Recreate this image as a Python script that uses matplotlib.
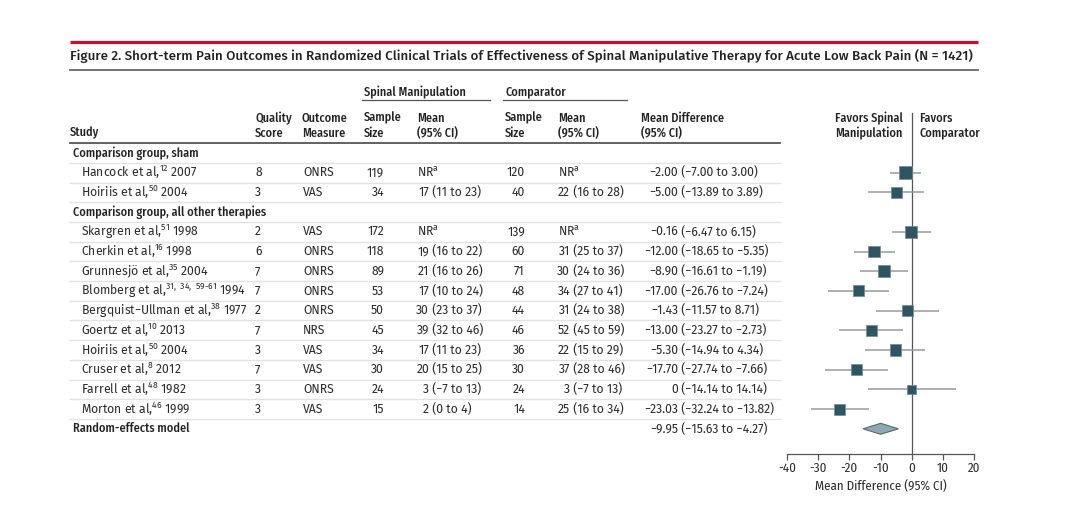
import matplotlib
matplotlib.use("Agg")
import matplotlib.pyplot as plt
from matplotlib.patches import Polygon
import numpy as np

plt.rcParams['font.family'] = ['Fira Sans', 'DejaVu Sans']
plt.rcParams['mathtext.fontset'] = 'custom'
plt.rcParams['mathtext.rm'] = 'Fira Sans'
plt.rcParams['mathtext.default'] = 'regular'
plt.rcParams['axes.unicode_minus'] = False

# ---- data ----
groups = ["Comparison group, sham", "Comparison group, all other therapies"]
group_sizes = [2, 10]

study = [
    "Hancock et al,$^{12}$ 2007",
    "Hoiriis et al,$^{50}$ 2004",
    "Skargren et al,$^{51}$ 1998",
    "Cherkin et al,$^{16}$ 1998",
    "Grunnesjö et al,$^{35}$ 2004",
    "Blomberg et al,$^{31,\\ 34,\\ 59\\text{-}61}$ 1994",
    "Bergquist−Ullman et al,$^{38}$ 1977",
    "Goertz et al,$^{10}$ 2013",
    "Hoiriis et al,$^{50}$ 2004",
    "Cruser et al,$^{8}$ 2012",
    "Farrell et al,$^{48}$ 1982",
    "Morton et al,$^{46}$ 1999",
]
quality = [8, 3, 2, 6, 7, 7, 2, 7, 3, 7, 3, 3]
measure = ["ONRS", "VAS", "VAS", "ONRS", "ONRS", "ONRS", "ONRS", "NRS", "VAS", "VAS", "ONRS", "VAS"]
sm_n = [119, 34, 172, 118, 89, 53, 50, 45, 34, 30, 24, 15]
sm_mean = ["NR$^{a}$", "17 (11 to 23)", "NR$^{a}$", "19 (16 to 22)", "21 (16 to 26)", "17 (10 to 24)",
           "30 (23 to 37)", "39 (32 to 46)", "17 (11 to 23)", "20 (15 to 25)", "3 (−7 to 13)", "2 (0 to 4)"]
cmp_n = [120, 40, 139, 60, 71, 48, 44, 46, 36, 30, 24, 14]
cmp_mean = ["NR$^{a}$", "22 (16 to 28)", "NR$^{a}$", "31 (25 to 37)", "30 (24 to 36)", "34 (27 to 41)",
            "31 (24 to 38)", "52 (45 to 59)", "22 (15 to 29)", "37 (28 to 46)", "3 (−7 to 13)", "25 (16 to 34)"]
md = [-2.00, -5.00, -0.16, -12.00, -8.90, -17.00, -1.43, -13.00, -5.30, -17.70, 0, -23.03]
md_lo = [-7.00, -13.89, -6.47, -18.65, -16.61, -26.76, -11.57, -23.27, -14.94, -27.74, -14.14, -32.24]
md_hi = [3.00, 3.89, 6.15, -5.35, -1.19, -7.24, 8.71, -2.73, 4.34, -7.66, 14.14, -13.82]
md_text = ["−2.00", "−5.00", "−0.16", "−12.00", "−8.90", "−17.00", "−1.43", "−13.00", "−5.30", "−17.70", "0", "−23.03"]
ci_text = ["(−7.00 to 3.00)", "(−13.89 to 3.89)", "(−6.47 to 6.15)", "(−18.65 to −5.35)", "(−16.61 to −1.19)",
           "(−26.76 to −7.24)", "(−11.57 to 8.71)", "(−23.27 to −2.73)", "(−14.94 to 4.34)", "(−27.74 to −7.66)",
           "(−14.14 to 14.14)", "(−32.24 to −13.82)"]
weight = [10.8, 7.8, 10.0, 9.2, 9.2, 7.8, 7.8, 7.8, 7.8, 7.8, 5.2, 7.8]

pooled = -9.95
pooled_lo = -15.63
pooled_hi = -4.27

title = ("Figure 2. Short-term Pain Outcomes in Randomized Clinical Trials of Effectiveness of "
         "Spinal Manipulative Therapy for Acute Low Back Pain (N = 1421)")

# ---- layout ----
TXT = "#2b2b2b"
HEAD = "#222222"
FS = 8.8
HFONT = "Fira Sans Condensed"
HW = "medium"
Y0, DY = 153, 19.7

fig = plt.figure(figsize=(10.74, 5.12), dpi=100)
ax = fig.add_axes([0, 0, 1, 1])
ax.set_xlim(0, 1074)
ax.set_ylim(512, 0)
ax.axis("off")


def head(x, y, s, ha="left"):
    ax.text(x, y, s, fontsize=FS, family=HFONT, fontweight=HW, color=HEAD, va="center", ha=ha)


# rows
n_rows = sum(group_sizes) + len(groups) + 1
row_y = Y0 + DY * np.arange(n_rows)
group_rows = []
study_rows = []
r = 0
for g in group_sizes:
    group_rows.append(r)
    study_rows.extend(range(r + 1, r + 1 + g))
    r += g + 1
pooled_row = r

# title and rules
ax.plot([70, 978], [42, 42], color="#c8102e", lw=2.3, solid_capstyle="butt")
ax.text(70, 56, title, fontsize=9.65, family="Fira Sans", fontweight="medium", color=HEAD,
        va="center", ha="left")
ax.plot([70, 978], [70, 70], color="#666666", lw=1.3)

# column group headers
head(364, 92, "Spinal Manipulation")
ax.plot([362, 490], [100, 100], color="#555555", lw=0.9)
head(505, 92, "Comparator")
ax.plot([503, 627], [100, 100], color="#555555", lw=0.9)

headers = [(70, "", "Study"), (255, "Quality", "Score"), (302, "Outcome", "Measure"),
           (364, "Sample", "Size"), (417, "Mean", "(95% CI)"), (505, "Sample", "Size"),
           (558, "Mean", "(95% CI)"), (641, "Mean Difference", "(95% CI)")]
for x, l1, l2 in headers:
    if l1:
        head(x, 118, l1)
    head(x, 133, l2)
head(903, 118, "Favors Spinal", ha="right")
head(903, 133, "Manipulation", ha="right")
head(919, 118, "Favors")
head(919, 133, "Comparator")

ax.plot([70, 780], [Y0 - DY / 2] * 2, color="#555555", lw=1.3)
for i in range(n_rows - 1):
    yy = Y0 + DY * (i + 0.5)
    ax.plot([70, 780], [yy, yy], color="#e3e3de", lw=1.0)

for gi, g in enumerate(groups):
    head(73, row_y[group_rows[gi]], g)
head(73, row_y[pooled_row], "Random-effects model")


def aligned(x, y, s):
    # line up on the end of the first number
    if s.startswith("NR"):
        ax.text(x - 12, y, s, fontsize=FS, color=TXT, va="center", ha="left")
        return
    first, rest = s.split(" ", 1)
    ax.text(x, y, first, fontsize=FS, color=TXT, va="center", ha="right")
    ax.text(x, y, " " + rest, fontsize=FS, color=TXT, va="center", ha="left")


for i, rr in enumerate(study_rows):
    y = row_y[rr]
    ax.text(81, y, study[i], fontsize=FS, color=TXT, va="center")
    ax.text(255, y, str(quality[i]), fontsize=FS, color=TXT, va="center")
    ax.text(303, y, measure[i], fontsize=FS, color=TXT, va="center")
    ax.text(384, y, str(sm_n[i]), fontsize=FS, color=TXT, va="center", ha="right")
    aligned(429, y, sm_mean[i])
    ax.text(525, y, str(cmp_n[i]), fontsize=FS, color=TXT, va="center", ha="right")
    aligned(570, y, cmp_mean[i])
    ax.text(678, y, md_text[i], fontsize=FS, color=TXT, va="center", ha="right")
    ax.text(678, y, " " + ci_text[i], fontsize=FS, color=TXT, va="center", ha="left")

y = row_y[pooled_row]
ax.text(678, y, "−9.95", fontsize=FS, color=TXT, va="center", ha="right")
ax.text(678, y, " (−15.63 to −4.27)", fontsize=FS, color=TXT, va="center", ha="left")

# ---- forest plot ----
fa = fig.add_axes([787 / 1074, (512 - 454) / 512, 187 / 1074, (454 - 100) / 512])
fa.set_xlim(-40, 20)
fa.set_ylim(454, 100)
fa.patch.set_alpha(0)
for s in ["top", "left", "right"]:
    fa.spines[s].set_visible(False)
fa.spines["bottom"].set_color("#555555")
fa.spines["bottom"].set_linewidth(0.9)
fa.set_yticks([])
fa.set_xticks([-40, -30, -20, -10, 0, 10, 20])
fa.tick_params(axis="x", length=4, width=0.9, color="#555555", labelsize=9.3, labelcolor=TXT, pad=2)
for lab in fa.get_xticklabels():
    lab.set_family(HFONT)
fa.set_xlabel("Mean Difference (95% CI)", fontsize=9.3, family=HFONT, color=TXT, labelpad=4)

fa.plot([0, 0], [113, 454], color="#555555", lw=0.9, zorder=1)

ys = row_y[study_rows]
fa.hlines(ys, md_lo, md_hi, color="#9a9a9a", lw=1.1, zorder=2)
side = 13 * np.sqrt(np.array(weight) / max(weight)) * 0.72
fa.scatter(md, ys, marker="s", s=side ** 2, color="#2f5562", edgecolor="#6f8c96", linewidth=0.5, zorder=3)

yp = row_y[pooled_row]
h = 5.5
diamond = Polygon([[pooled_lo, yp], [pooled, yp - h], [pooled_hi, yp], [pooled, yp + h]],
                  closed=True, facecolor="#8fa9b4", edgecolor="#5a6a70", lw=0.8, zorder=3)
fa.add_patch(diamond)

fig.savefig("out.png", dpi=100)
